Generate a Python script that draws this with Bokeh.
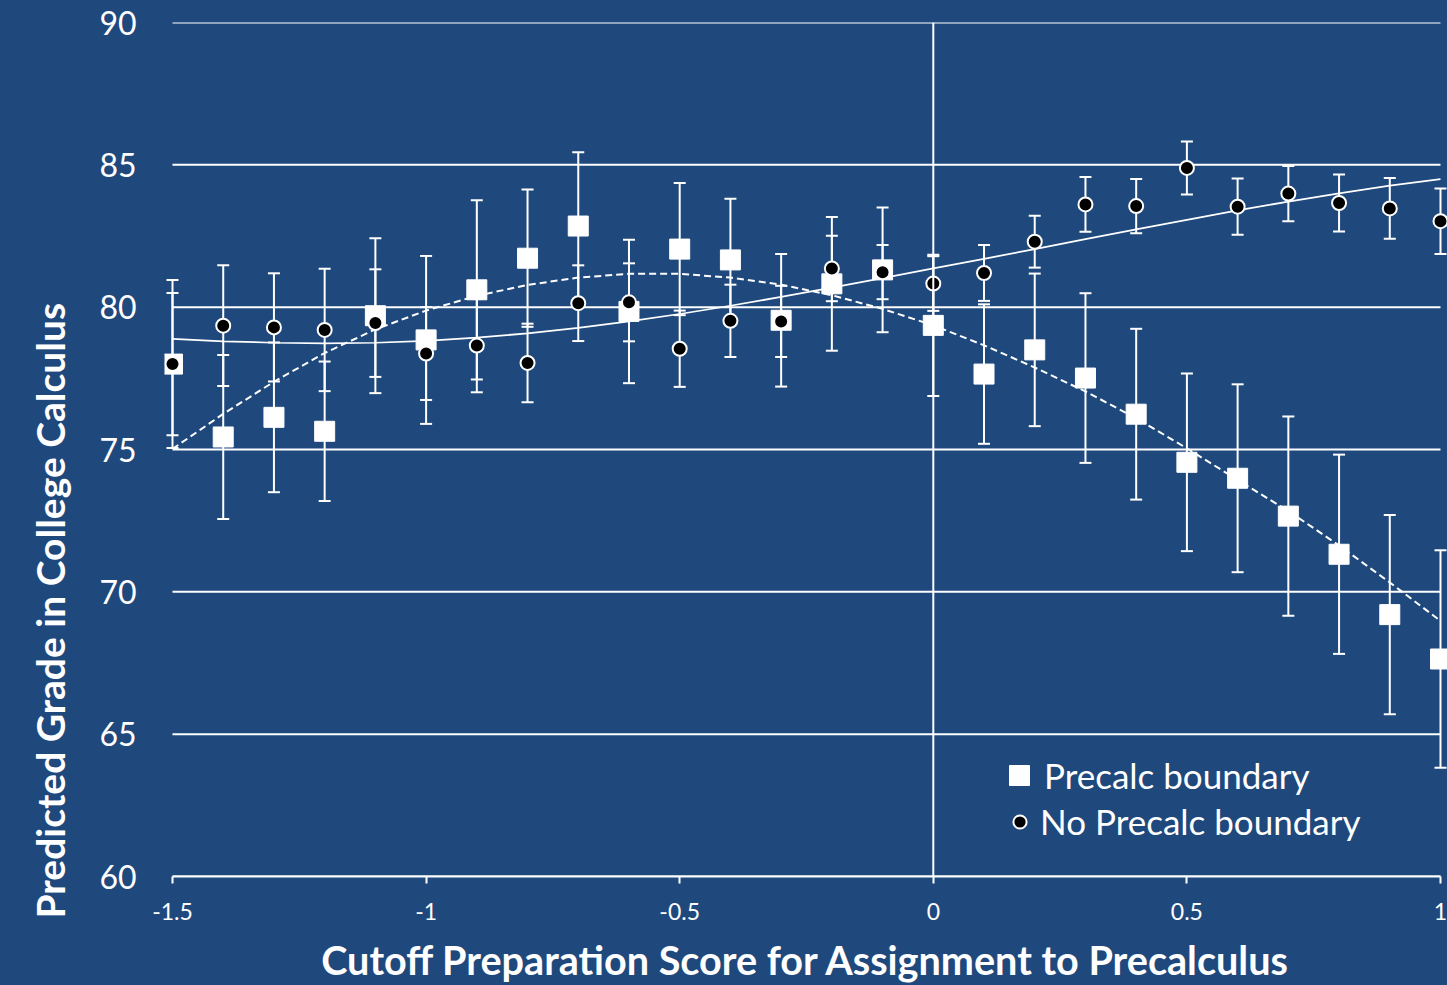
from bokeh.plotting import figure
from bokeh.models import (Range1d, Span, Legend, LegendItem, Whisker, ColumnDataSource,
                          FixedTicker, TeeHead, NumeralTickFormatter, Title)
from bokeh.embed import file_html
from bokeh.resources import INLINE

# ---------------- data ----------------
cutoff = [-1.5, -1.4, -1.3, -1.2, -1.1, -1.0, -0.9, -0.8, -0.7, -0.6, -0.5, -0.4, -0.3,
          -0.2, -0.1, 0.0, 0.1, 0.2, 0.3, 0.4, 0.5, 0.6, 0.7, 0.8, 0.9, 1.0]

precalc_mean = [78.00, 75.44, 76.13, 75.64, 79.70, 78.85, 80.61, 81.72, 82.85, 79.85, 82.04, 81.66, 79.54,
                80.82, 81.31, 79.36, 77.65, 78.50, 77.51, 76.24, 74.55, 73.99, 72.66, 71.32, 69.20, 67.64]
precalc_err = [2.95, 2.88, 2.63, 2.45, 2.72, 2.95, 3.15, 2.41, 2.59, 2.52, 2.32, 2.15, 2.33,
               2.35, 2.19, 2.48, 2.45, 2.68, 2.98, 3.00, 3.12, 3.30, 3.50, 3.50, 3.50, 3.82]

noprecalc_mean = [78.00, 79.35, 79.29, 79.20, 79.44, 78.37, 78.65, 78.04, 80.14, 80.17, 78.54, 79.52, 79.50,
                  81.36, 81.23, 80.83, 81.20, 82.30, 83.61, 83.55, 84.89, 83.53, 83.99, 83.66, 83.47, 83.02]
noprecalc_err = [2.50, 2.12, 1.90, 2.15, 1.89, 1.63, 1.64, 1.38, 1.33, 1.37, 1.34, 1.27, 1.25,
                 1.15, 0.95, 0.96, 0.98, 0.91, 0.96, 0.95, 0.93, 0.99, 0.97, 1.00, 1.07, 1.15]

# trendlines
precalc_trend = [75.02, 76.25, 77.38, 78.39, 79.22, 79.88, 80.40, 80.78, 81.04, 81.17, 81.17, 81.04, 80.79,
                 80.42, 79.94, 79.36, 78.66, 77.88, 77.04, 76.10, 75.04, 73.93, 72.84, 71.63, 70.33, 68.98]
noprecalc_trend = [78.89, 78.80, 78.75, 78.73, 78.75, 78.82, 78.93, 79.08, 79.27, 79.50, 79.76, 80.05, 80.36,
                   80.69, 81.02, 81.36, 81.70, 82.04, 82.39, 82.73, 83.07, 83.40, 83.71, 84.00, 84.27, 84.50]

y_ticks = [60, 65, 70, 75, 80, 85, 90]
x_ticks = [-1.5, -1.0, -0.5, 0.0, 0.5, 1.0]

x_title = "Cutoff Preparation Score for Assignment to Precalculus"
y_title = "Predicted Grade in College Calculus"
label_precalc = "Precalc boundary"
label_noprecalc = "No Precalc boundary"

# ---------------- styling ----------------
BG = "#1F497D"
FG = "white"
FONT = "Lato"
PX_PER_UNIT = 507.2          # horizontal scale of the reference
PAD_L, PAD_R = 8, 7          # visible room outside the axis ends (px)

src = ColumnDataSource(dict(
    x=cutoff,
    sq=precalc_mean,
    sq_lo=[m - e for m, e in zip(precalc_mean, precalc_err)],
    sq_hi=[m + e for m, e in zip(precalc_mean, precalc_err)],
    ci=noprecalc_mean,
    ci_lo=[m - e for m, e in zip(noprecalc_mean, noprecalc_err)],
    ci_hi=[m + e for m, e in zip(noprecalc_mean, noprecalc_err)],
    t_sq=precalc_trend,
    t_ci=noprecalc_trend,
))

x_lo, x_hi = x_ticks[0], x_ticks[-1]
p = figure(width=1447, height=985,
           x_range=Range1d(x_lo - PAD_L / PX_PER_UNIT, x_hi + PAD_R / PX_PER_UNIT),
           y_range=Range1d(y_ticks[0], y_ticks[-1]),
           output_backend="svg", toolbar_location=None,
           background_fill_color=BG, border_fill_color=None, outline_line_color=None,
           min_border_left=164, min_border_right=0, min_border_top=22, min_border_bottom=107)
p.styles = {"background-color": BG}

# grid (drawn as guides between the axis ends)
p.xgrid.visible = False
p.ygrid.visible = False
p.segment(x0=[x_lo] * len(y_ticks), x1=[x_hi] * len(y_ticks), y0=y_ticks, y1=y_ticks,
          line_color=FG, line_width=2, level="underlay")

# y axis
p.yaxis.ticker = FixedTicker(ticks=y_ticks)
p.yaxis.axis_line_color = None
p.yaxis.major_tick_line_color = None
p.yaxis.minor_tick_line_color = None
p.yaxis.major_tick_out = 0
p.yaxis.major_tick_in = 0
p.yaxis.major_label_standoff = 28
p.yaxis.major_label_text_color = FG
p.yaxis.major_label_text_font = FONT
p.yaxis.major_label_text_font_size = "32px"

# y-axis title as a side title, starting a little below the frame bottom as in the reference
p.add_layout(Title(text=y_title, align="left", offset=-42, standoff=43, vertical_align="top",
                   text_color=FG, text_font=FONT, text_font_style="bold",
                   text_font_size="39px"), "left")

# x axis
p.xaxis.ticker = FixedTicker(ticks=x_ticks)
p.xaxis.bounds = (x_lo, x_hi)
p.xaxis.formatter = NumeralTickFormatter(format="0.[0]")
p.xaxis.axis_line_color = FG
p.xaxis.axis_line_width = 2
p.xaxis.major_tick_line_color = FG
p.xaxis.major_tick_line_width = 2
p.xaxis.major_tick_out = 7
p.xaxis.major_tick_in = 0
p.xaxis.minor_tick_line_color = None
p.xaxis.major_label_standoff = 19
p.xaxis.major_label_text_color = FG
p.xaxis.major_label_text_font = FONT
p.xaxis.major_label_text_font_size = "23px"
p.xaxis.axis_label = x_title
p.xaxis.axis_label_text_color = FG
p.xaxis.axis_label_text_font = FONT
p.xaxis.axis_label_text_font_style = "bold"
p.xaxis.axis_label_text_font_size = "39.6px"
p.xaxis.axis_label_standoff = 13

# vertical line at 0
p.add_layout(Span(location=0, dimension="height", line_color=FG, line_width=2))

# error bars
for lo, hi in (("sq_lo", "sq_hi"), ("ci_lo", "ci_hi")):
    w = Whisker(source=src, base="x", lower=lo, upper=hi, line_color=FG, line_width=2,
                upper_head=TeeHead(size=12, line_color=FG, line_width=2),
                lower_head=TeeHead(size=12, line_color=FG, line_width=2),
                level="underlay")
    p.add_layout(w)

# trendlines
p.line("x", "t_ci", source=src, line_color=FG, line_width=1.75)
p.line("x", "t_sq", source=src, line_color=FG, line_width=2, line_dash="7 4")

# markers
sq_r = p.scatter("x", "sq", source=src, marker="square", size=20,
                 fill_color=FG, line_color=FG, line_width=1)
ci_r = p.scatter("x", "ci", source=src, marker="circle", size=14,
                 fill_color="black", line_color=FG, line_width=2)

# legends (two, so the glyphs can differ in size)
leg1 = Legend(items=[LegendItem(label=label_precalc, renderers=[sq_r])],
              location=(830, 76), glyph_width=50, glyph_height=50, label_standoff=0,
              padding=0, margin=0, border_line_color=None, background_fill_alpha=0,
              label_text_color=FG, label_text_font=FONT, label_text_font_size="35px")
leg2 = Legend(items=[LegendItem(label=label_noprecalc, renderers=[ci_r])],
              location=(839, 34), glyph_width=33, glyph_height=33, label_standoff=4,
              padding=0, margin=0, border_line_color=None, background_fill_alpha=0,
              label_text_color=FG, label_text_font=FONT, label_text_font_size="35px")
p.add_layout(leg1)
p.add_layout(leg2)

open("out.html", "w").write(file_html(p, INLINE))
